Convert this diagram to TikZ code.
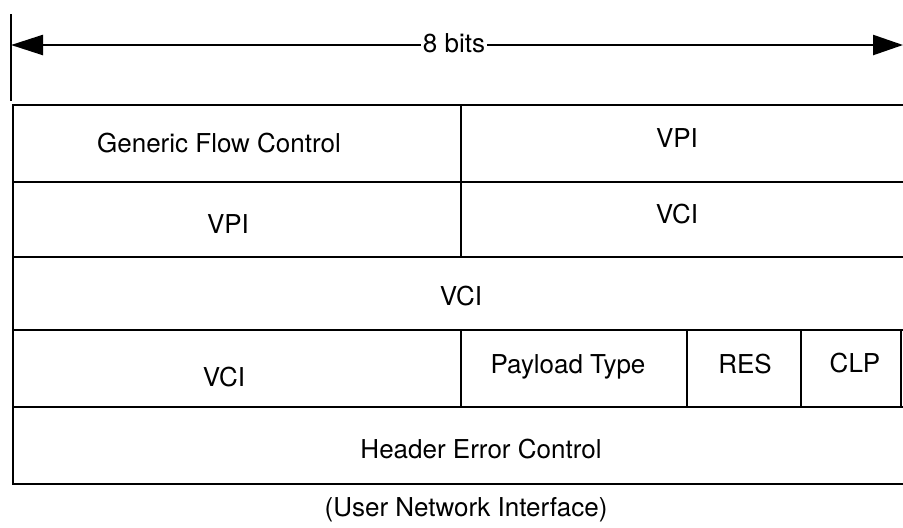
\documentclass[tikz,border=0pt]{standalone}
\usepackage{fontspec}
\setmainfont{TeX Gyre Heros}
\usetikzlibrary{arrows.meta}
\begin{document}
\begin{tikzpicture}[x=0.5pt,y=-0.5pt,
  lbl/.style={font=\fontsize{13pt}{15pt}\selectfont, inner sep=0pt, anchor=base},
  rule/.style={line width=1.35pt, line cap=rect},
  dim/.style={line width=1.2pt, {Triangle[length=16pt,width=10pt]}-{Triangle[length=15pt,width=10pt]}}]
\useasboundingbox (0,0) rectangle (903,527);
% dimension arrow
\coordinate (tickTop) at (11,15);
\coordinate (tickBot) at (11,100);
\coordinate (arL) at (11,45);
\coordinate (arR) at (903,45);
\draw[rule] (tickTop) -- (tickBot);
\draw[dim] (arL) -- (arR);
\node[lbl, fill=white, inner xsep=1pt, inner ysep=3pt] (bits) at (454,52) {8 bits};
% table grid
\draw[rule] (13,105) -- (903,105);
\draw[rule] (13,182) -- (903,182);
\draw[rule] (13,257) -- (903,257);
\draw[rule] (13,330) -- (903,330);
\draw[rule] (13,407) -- (903,407);
\draw[rule] (13,484) -- (903,484);
\draw[rule] (13,105) -- (13,484);
\draw[rule] (461,105) -- (461,257);
\draw[rule] (461,330) -- (461,407);
\draw[rule] (687,330) -- (687,407);
\draw[rule] (801,330) -- (801,407);
\draw[rule] (901,330) -- (901,407);
% labels
\node[lbl] (gfc) at (219,152) {Generic Flow Control};
\node[lbl] (vpiA) at (677,147) {VPI};
\node[lbl] (vpiB) at (228,233) {VPI};
\node[lbl] (vciA) at (677,223) {VCI};
\node[lbl] (vciB) at (461,305) {VCI};
\node[lbl] (vciC) at (224,386) {VCI};
\node[lbl] (pt) at (568,373) {Payload Type};
\node[lbl] (res) at (745,373) {RES};
\node[lbl] (clp) at (855,372) {CLP};
\node[lbl] (hec) at (481,458) {Header Error Control};
\node[lbl] (uni) at (466,516) {(User Network Interface)};
\end{tikzpicture}
\end{document}
